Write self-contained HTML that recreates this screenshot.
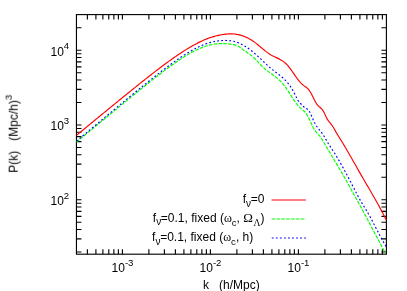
<!DOCTYPE html>
<html><head><meta charset="utf-8"><title>P(k)</title>
<style>html,body{margin:0;padding:0;background:#fff;}body{width:407px;height:291px;overflow:hidden;font-family:"Liberation Sans",sans-serif;}</style>
</head><body>
<svg width="407" height="291" viewBox="0 0 407 291" style="display:block">
<rect width="407" height="291" fill="#fff"/>
<g fill="none" stroke="#000" stroke-width="1.12">
<path d="M87.38 254.20V249.20M87.38 14.60V19.60M95.91 254.20V249.20M95.91 14.60V19.60M102.88 254.20V249.20M102.88 14.60V19.60M108.77 254.20V249.20M108.77 14.60V19.60M113.87 254.20V249.20M113.87 14.60V19.60M118.37 254.20V249.20M118.37 14.60V19.60M122.40 254.20V249.20M122.40 14.60V19.60M148.89 254.20V249.20M148.89 14.60V19.60M164.39 254.20V249.20M164.39 14.60V19.60M175.38 254.20V249.20M175.38 14.60V19.60M183.91 254.20V249.20M183.91 14.60V19.60M190.88 254.20V249.20M190.88 14.60V19.60M196.77 254.20V249.20M196.77 14.60V19.60M201.87 254.20V249.20M201.87 14.60V19.60M206.37 254.20V249.20M206.37 14.60V19.60M210.40 254.20V249.20M210.40 14.60V19.60M236.89 254.20V249.20M236.89 14.60V19.60M252.39 254.20V249.20M252.39 14.60V19.60M263.38 254.20V249.20M263.38 14.60V19.60M271.91 254.20V249.20M271.91 14.60V19.60M278.88 254.20V249.20M278.88 14.60V19.60M284.77 254.20V249.20M284.77 14.60V19.60M289.87 254.20V249.20M289.87 14.60V19.60M294.37 254.20V249.20M294.37 14.60V19.60M298.40 254.20V249.20M298.40 14.60V19.60M324.89 254.20V249.20M324.89 14.60V19.60M340.39 254.20V249.20M340.39 14.60V19.60M351.38 254.20V249.20M351.38 14.60V19.60M359.91 254.20V249.20M359.91 14.60V19.60M366.88 254.20V249.20M366.88 14.60V19.60M372.77 254.20V249.20M372.77 14.60V19.60M377.87 254.20V249.20M377.87 14.60V19.60M382.37 254.20V249.20M382.37 14.60V19.60M76.45 252.05H81.45M386.40 252.05H381.40M76.45 238.89H81.45M386.40 238.89H381.40M76.45 229.55H81.45M386.40 229.55H381.40M76.45 222.30H81.45M386.40 222.30H381.40M76.45 216.38H81.45M386.40 216.38H381.40M76.45 211.38H81.45M386.40 211.38H381.40M76.45 207.04H81.45M386.40 207.04H381.40M76.45 203.22H81.45M386.40 203.22H381.40M76.45 199.80H81.45M386.40 199.80H381.40M76.45 177.30H81.45M386.40 177.30H381.40M76.45 164.14H81.45M386.40 164.14H381.40M76.45 154.80H81.45M386.40 154.80H381.40M76.45 147.55H81.45M386.40 147.55H381.40M76.45 141.63H81.45M386.40 141.63H381.40M76.45 136.63H81.45M386.40 136.63H381.40M76.45 132.29H81.45M386.40 132.29H381.40M76.45 128.47H81.45M386.40 128.47H381.40M76.45 125.05H81.45M386.40 125.05H381.40M76.45 102.55H81.45M386.40 102.55H381.40M76.45 89.39H81.45M386.40 89.39H381.40M76.45 80.05H81.45M386.40 80.05H381.40M76.45 72.80H81.45M386.40 72.80H381.40M76.45 66.88H81.45M386.40 66.88H381.40M76.45 61.88H81.45M386.40 61.88H381.40M76.45 57.54H81.45M386.40 57.54H381.40M76.45 53.72H81.45M386.40 53.72H381.40M76.45 50.30H81.45M386.40 50.30H381.40M76.45 27.80H81.45M386.40 27.80H381.40"/>
<rect x="76.45" y="14.6" width="309.95" height="239.60"/>
</g>
<g fill="none" stroke-linecap="butt" stroke-linejoin="round">
<path d="M76.45 135.39 L77.45 134.56 L78.45 133.74 L79.45 132.91 L80.45 132.09 L81.45 131.26 L82.45 130.44 L83.45 129.61 L84.45 128.79 L85.45 127.96 L86.45 127.14 L87.45 126.31 L88.45 125.49 L89.45 124.67 L90.45 123.84 L91.45 123.02 L92.45 122.20 L93.45 121.37 L94.45 120.55 L95.45 119.73 L96.45 118.90 L97.45 118.08 L98.45 117.26 L99.45 116.44 L100.45 115.61 L101.45 114.79 L102.45 113.97 L103.45 113.15 L104.45 112.33 L105.45 111.51 L106.45 110.69 L107.45 109.87 L108.45 109.05 L109.45 108.23 L110.45 107.41 L111.45 106.59 L112.45 105.77 L113.45 104.96 L114.45 104.14 L115.45 103.32 L116.45 102.50 L117.45 101.69 L118.45 100.87 L119.45 100.06 L120.45 99.24 L121.45 98.43 L122.45 97.62 L123.45 96.80 L124.45 95.99 L125.45 95.18 L126.45 94.37 L127.45 93.56 L128.45 92.75 L129.45 91.94 L130.45 91.13 L131.45 90.33 L132.45 89.52 L133.45 88.71 L134.45 87.91 L135.45 87.11 L136.45 86.31 L137.45 85.50 L138.45 84.70 L139.45 83.91 L140.45 83.11 L141.45 82.31 L142.45 81.52 L143.45 80.73 L144.45 79.93 L145.45 79.14 L146.45 78.36 L147.45 77.57 L148.45 76.78 L149.45 76.00 L150.45 75.22 L151.45 74.44 L152.45 73.66 L153.45 72.89 L154.45 72.12 L155.45 71.35 L156.45 70.58 L157.45 69.81 L158.45 69.05 L159.45 68.29 L160.45 67.54 L161.45 66.78 L162.45 66.03 L163.45 65.28 L164.45 64.54 L165.45 63.80 L166.45 63.06 L167.45 62.33 L168.45 61.60 L169.45 60.88 L170.45 60.16 L171.45 59.44 L172.45 58.73 L173.45 58.03 L174.45 57.32 L175.45 56.63 L176.45 55.94 L177.45 55.25 L178.45 54.57 L179.45 53.90 L180.45 53.24 L181.45 52.58 L182.45 51.92 L183.45 51.28 L184.45 50.64 L185.45 50.01 L186.45 49.38 L187.45 48.77 L188.45 48.16 L189.45 47.56 L190.45 46.97 L191.45 46.39 L192.45 45.82 L193.45 45.26 L194.45 44.71 L195.45 44.17 L196.45 43.64 L197.45 43.12 L198.45 42.62 L199.45 42.12 L200.45 41.64 L201.45 41.17 L202.45 40.71 L203.45 40.26 L204.45 39.83 L205.45 39.42 L206.45 39.01 L207.45 38.62 L208.45 38.25 L209.45 37.89 L210.45 37.55 L211.45 37.22 L212.45 36.91 L213.45 36.61 L214.45 36.33 L215.45 36.06 L216.45 35.81 L217.45 35.57 L218.45 35.35 L219.45 35.14 L220.45 34.94 L221.45 34.76 L222.45 34.60 L223.45 34.45 L224.45 34.31 L225.45 34.19 L226.45 34.09 L227.45 34.00 L228.45 33.94 L229.45 33.89 L230.45 33.87 L231.45 33.87 L232.45 33.90 L233.45 33.96 L234.45 34.05 L235.45 34.16 L236.45 34.31 L237.45 34.48 L238.45 34.68 L239.45 34.91 L240.45 35.17 L241.45 35.46 L242.45 35.78 L243.45 36.13 L244.45 36.51 L245.45 36.92 L246.45 37.36 L247.45 37.84 L248.45 38.35 L249.45 38.89 L250.45 39.47 L251.45 40.08 L252.45 40.73 L253.45 41.41 L254.45 42.13 L255.45 42.88 L256.45 43.66 L257.45 44.46 L258.45 45.29 L259.45 46.12 L260.45 46.97 L261.45 47.81 L262.45 48.66 L263.45 49.49 L264.45 50.31 L265.45 51.10 L266.45 51.88 L267.45 52.62 L268.45 53.32 L269.45 53.98 L270.45 54.60 L271.45 55.17 L272.45 55.70 L273.45 56.20 L274.45 56.69 L275.45 57.17 L276.45 57.64 L277.45 58.12 L278.45 58.61 L279.45 59.13 L280.45 59.67 L281.45 60.26 L282.45 60.90 L283.45 61.60 L284.45 62.37 L285.45 63.22 L286.45 64.17 L287.45 65.23 L288.45 66.39 L289.45 67.64 L290.45 68.97 L291.45 70.34 L292.45 71.76 L293.45 73.20 L294.45 74.64 L295.45 76.07 L296.45 77.47 L297.45 78.83 L298.45 80.14 L299.45 81.38 L300.45 82.54 L301.45 83.60 L302.45 84.56 L303.45 85.39 L304.45 86.12 L305.45 86.82 L306.45 87.55 L307.45 88.40 L308.45 89.45 L309.45 90.75 L310.45 92.27 L311.45 94.00 L312.45 95.90 L313.45 97.92 L314.45 99.95 L315.45 101.88 L316.45 103.57 L317.45 104.94 L318.45 106.03 L319.45 106.94 L320.45 107.80 L321.45 108.74 L322.45 109.89 L323.45 111.41 L324.45 113.36 L325.45 115.53 L326.45 117.61 L327.45 119.39 L328.45 120.90 L329.45 122.23 L330.45 123.47 L331.45 124.71 L332.45 126.03 L333.45 127.54 L334.45 129.27 L335.45 131.11 L336.45 132.88 L337.45 134.55 L338.45 136.15 L339.45 137.73 L340.45 139.32 L341.45 140.93 L342.45 142.56 L343.45 144.21 L344.45 145.89 L345.45 147.57 L346.45 149.28 L347.45 151.00 L348.45 152.73 L349.45 154.47 L350.45 156.22 L351.45 157.98 L352.45 159.74 L353.45 161.51 L354.45 163.28 L355.45 165.05 L356.45 166.82 L357.45 168.59 L358.45 170.35 L359.45 172.10 L360.45 173.85 L361.45 175.59 L362.45 177.32 L363.45 179.04 L364.45 180.76 L365.45 182.47 L366.45 184.17 L367.45 185.88 L368.45 187.58 L369.45 189.29 L370.45 191.00 L371.45 192.72 L372.45 194.45 L373.45 196.18 L374.45 197.93 L375.45 199.69 L376.45 201.46 L377.45 203.25 L378.45 205.06 L379.45 206.89 L380.45 208.75 L381.45 210.62 L382.45 212.52 L383.45 214.45 L384.45 216.41 L385.45 218.40 L386.40 220.33" stroke="#ff0000" stroke-width="1.15"/>
<path d="M76.45 142.13 L77.45 141.30 L78.45 140.48 L79.45 139.65 L80.45 138.82 L81.45 137.99 L82.45 137.16 L83.45 136.33 L84.45 135.50 L85.45 134.67 L86.45 133.84 L87.45 133.01 L88.45 132.18 L89.45 131.35 L90.45 130.53 L91.45 129.70 L92.45 128.87 L93.45 128.04 L94.45 127.21 L95.45 126.38 L96.45 125.56 L97.45 124.73 L98.45 123.90 L99.45 123.07 L100.45 122.25 L101.45 121.42 L102.45 120.59 L103.45 119.76 L104.45 118.94 L105.45 118.11 L106.45 117.28 L107.45 116.46 L108.45 115.63 L109.45 114.81 L110.45 113.98 L111.45 113.16 L112.45 112.33 L113.45 111.51 L114.45 110.68 L115.45 109.86 L116.45 109.04 L117.45 108.21 L118.45 107.39 L119.45 106.57 L120.45 105.75 L121.45 104.92 L122.45 104.10 L123.45 103.28 L124.45 102.46 L125.45 101.64 L126.45 100.83 L127.45 100.01 L128.45 99.19 L129.45 98.37 L130.45 97.56 L131.45 96.74 L132.45 95.93 L133.45 95.11 L134.45 94.30 L135.45 93.49 L136.45 92.68 L137.45 91.87 L138.45 91.06 L139.45 90.25 L140.45 89.44 L141.45 88.64 L142.45 87.83 L143.45 87.03 L144.45 86.23 L145.45 85.43 L146.45 84.63 L147.45 83.84 L148.45 83.04 L149.45 82.25 L150.45 81.46 L151.45 80.67 L152.45 79.88 L153.45 79.09 L154.45 78.31 L155.45 77.53 L156.45 76.75 L157.45 75.98 L158.45 75.21 L159.45 74.44 L160.45 73.67 L161.45 72.91 L162.45 72.15 L163.45 71.39 L164.45 70.64 L165.45 69.89 L166.45 69.15 L167.45 68.41 L168.45 67.67 L169.45 66.94 L170.45 66.22 L171.45 65.49 L172.45 64.78 L173.45 64.07 L174.45 63.37 L175.45 62.67 L176.45 61.98 L177.45 61.29 L178.45 60.61 L179.45 59.94 L180.45 59.28 L181.45 58.63 L182.45 57.98 L183.45 57.34 L184.45 56.71 L185.45 56.09 L186.45 55.48 L187.45 54.88 L188.45 54.29 L189.45 53.71 L190.45 53.15 L191.45 52.59 L192.45 52.05 L193.45 51.52 L194.45 51.00 L195.45 50.50 L196.45 50.01 L197.45 49.54 L198.45 49.08 L199.45 48.63 L200.45 48.20 L201.45 47.79 L202.45 47.40 L203.45 47.02 L204.45 46.66 L205.45 46.32 L206.45 46.00 L207.45 45.70 L208.45 45.42 L209.45 45.15 L210.45 44.91 L211.45 44.69 L212.45 44.49 L213.45 44.31 L214.45 44.15 L215.45 44.01 L216.45 43.90 L217.45 43.80 L218.45 43.72 L219.45 43.66 L220.45 43.62 L221.45 43.60 L222.45 43.60 L223.45 43.62 L224.45 43.65 L225.45 43.70 L226.45 43.76 L227.45 43.84 L228.45 43.93 L229.45 44.04 L230.45 44.16 L231.45 44.29 L232.45 44.44 L233.45 44.62 L234.45 44.84 L235.45 45.11 L236.45 45.45 L237.45 45.85 L238.45 46.34 L239.45 46.93 L240.45 47.61 L241.45 48.35 L242.45 49.13 L243.45 49.92 L244.45 50.67 L245.45 51.40 L246.45 52.09 L247.45 52.78 L248.45 53.46 L249.45 54.15 L250.45 54.87 L251.45 55.62 L252.45 56.42 L253.45 57.28 L254.45 58.21 L255.45 59.22 L256.45 60.29 L257.45 61.39 L258.45 62.51 L259.45 63.62 L260.45 64.70 L261.45 65.73 L262.45 66.70 L263.45 67.62 L264.45 68.49 L265.45 69.32 L266.45 70.12 L267.45 70.89 L268.45 71.63 L269.45 72.37 L270.45 73.09 L271.45 73.81 L272.45 74.53 L273.45 75.26 L274.45 76.01 L275.45 76.78 L276.45 77.58 L277.45 78.42 L278.45 79.30 L279.45 80.23 L280.45 81.21 L281.45 82.26 L282.45 83.37 L283.45 84.56 L284.45 85.83 L285.45 87.18 L286.45 88.61 L287.45 90.09 L288.45 91.62 L289.45 93.17 L290.45 94.74 L291.45 96.30 L292.45 97.86 L293.45 99.38 L294.45 100.86 L295.45 102.29 L296.45 103.64 L297.45 104.91 L298.45 106.09 L299.45 107.15 L300.45 108.10 L301.45 108.98 L302.45 109.81 L303.45 110.62 L304.45 111.50 L305.45 112.55 L306.45 113.85 L307.45 115.48 L308.45 117.38 L309.45 119.46 L310.45 121.64 L311.45 123.82 L312.45 125.94 L313.45 127.92 L314.45 129.67 L315.45 131.15 L316.45 132.39 L317.45 133.49 L318.45 134.57 L319.45 135.72 L320.45 137.03 L321.45 138.53 L322.45 140.15 L323.45 141.83 L324.45 143.52 L325.45 145.20 L326.45 146.88 L327.45 148.56 L328.45 150.23 L329.45 151.90 L330.45 153.58 L331.45 155.25 L332.45 156.93 L333.45 158.61 L334.45 160.29 L335.45 161.97 L336.45 163.66 L337.45 165.35 L338.45 167.05 L339.45 168.75 L340.45 170.46 L341.45 172.18 L342.45 173.91 L343.45 175.65 L344.45 177.39 L345.45 179.15 L346.45 180.92 L347.45 182.70 L348.45 184.50 L349.45 186.30 L350.45 188.13 L351.45 189.96 L352.45 191.81 L353.45 193.64 L354.45 195.45 L355.45 197.23 L356.45 199.01 L357.45 200.79 L358.45 202.58 L359.45 204.40 L360.45 206.23 L361.45 208.07 L362.45 209.92 L363.45 211.79 L364.45 213.66 L365.45 215.55 L366.45 217.44 L367.45 219.33 L368.45 221.23 L369.45 223.14 L370.45 225.04 L371.45 226.95 L372.45 228.86 L373.45 230.76 L374.45 232.66 L375.45 234.56 L376.45 236.45 L377.45 238.34 L378.45 240.22 L379.45 242.08 L380.45 243.94 L381.45 245.79 L382.45 247.62 L383.45 249.44 L384.45 251.25 L385.45 253.04" stroke="#00ff00" stroke-width="1.15" stroke-dasharray="3.6 1.25"/>
<path d="M76.45 141.18 L77.45 140.34 L78.45 139.50 L79.45 138.67 L80.45 137.83 L81.45 136.99 L82.45 136.15 L83.45 135.31 L84.45 134.48 L85.45 133.64 L86.45 132.80 L87.45 131.96 L88.45 131.13 L89.45 130.29 L90.45 129.45 L91.45 128.61 L92.45 127.78 L93.45 126.94 L94.45 126.10 L95.45 125.27 L96.45 124.43 L97.45 123.59 L98.45 122.76 L99.45 121.92 L100.45 121.09 L101.45 120.25 L102.45 119.41 L103.45 118.58 L104.45 117.74 L105.45 116.91 L106.45 116.07 L107.45 115.24 L108.45 114.41 L109.45 113.57 L110.45 112.74 L111.45 111.91 L112.45 111.07 L113.45 110.24 L114.45 109.41 L115.45 108.58 L116.45 107.75 L117.45 106.91 L118.45 106.08 L119.45 105.25 L120.45 104.42 L121.45 103.60 L122.45 102.77 L123.45 101.94 L124.45 101.11 L125.45 100.28 L126.45 99.46 L127.45 98.63 L128.45 97.81 L129.45 96.98 L130.45 96.16 L131.45 95.34 L132.45 94.52 L133.45 93.69 L134.45 92.87 L135.45 92.06 L136.45 91.24 L137.45 90.42 L138.45 89.60 L139.45 88.79 L140.45 87.98 L141.45 87.16 L142.45 86.35 L143.45 85.54 L144.45 84.73 L145.45 83.93 L146.45 83.12 L147.45 82.32 L148.45 81.52 L149.45 80.72 L150.45 79.92 L151.45 79.12 L152.45 78.33 L153.45 77.54 L154.45 76.75 L155.45 75.96 L156.45 75.18 L157.45 74.40 L158.45 73.62 L159.45 72.84 L160.45 72.07 L161.45 71.30 L162.45 70.53 L163.45 69.77 L164.45 69.01 L165.45 68.25 L166.45 67.50 L167.45 66.75 L168.45 66.01 L169.45 65.27 L170.45 64.54 L171.45 63.81 L172.45 63.08 L173.45 62.37 L174.45 61.65 L175.45 60.95 L176.45 60.24 L177.45 59.55 L178.45 58.86 L179.45 58.18 L180.45 57.51 L181.45 56.84 L182.45 56.18 L183.45 55.53 L184.45 54.89 L185.45 54.25 L186.45 53.63 L187.45 53.01 L188.45 52.41 L189.45 51.81 L190.45 51.23 L191.45 50.65 L192.45 50.09 L193.45 49.54 L194.45 49.00 L195.45 48.48 L196.45 47.97 L197.45 47.47 L198.45 46.98 L199.45 46.51 L200.45 46.05 L201.45 45.61 L202.45 45.19 L203.45 44.78 L204.45 44.39 L205.45 44.01 L206.45 43.65 L207.45 43.31 L208.45 42.99 L209.45 42.69 L210.45 42.41 L211.45 42.15 L212.45 41.91 L213.45 41.69 L214.45 41.49 L215.45 41.30 L216.45 41.14 L217.45 40.99 L218.45 40.86 L219.45 40.75 L220.45 40.65 L221.45 40.57 L222.45 40.51 L223.45 40.46 L224.45 40.44 L225.45 40.43 L226.45 40.45 L227.45 40.48 L228.45 40.55 L229.45 40.63 L230.45 40.75 L231.45 40.90 L232.45 41.08 L233.45 41.29 L234.45 41.54 L235.45 41.83 L236.45 42.15 L237.45 42.50 L238.45 42.88 L239.45 43.29 L240.45 43.74 L241.45 44.22 L242.45 44.73 L243.45 45.27 L244.45 45.85 L245.45 46.46 L246.45 47.10 L247.45 47.78 L248.45 48.48 L249.45 49.22 L250.45 49.98 L251.45 50.76 L252.45 51.57 L253.45 52.40 L254.45 53.25 L255.45 54.12 L256.45 55.01 L257.45 55.91 L258.45 56.82 L259.45 57.75 L260.45 58.69 L261.45 59.63 L262.45 60.58 L263.45 61.54 L264.45 62.49 L265.45 63.44 L266.45 64.38 L267.45 65.30 L268.45 66.21 L269.45 67.11 L270.45 67.97 L271.45 68.82 L272.45 69.63 L273.45 70.42 L274.45 71.19 L275.45 71.95 L276.45 72.70 L277.45 73.46 L278.45 74.22 L279.45 75.00 L280.45 75.80 L281.45 76.62 L282.45 77.49 L283.45 78.39 L284.45 79.34 L285.45 80.34 L286.45 81.40 L287.45 82.53 L288.45 83.75 L289.45 85.05 L290.45 86.47 L291.45 87.99 L292.45 89.65 L293.45 91.45 L294.45 93.39 L295.45 95.46 L296.45 97.55 L297.45 99.54 L298.45 101.21 L299.45 102.49 L300.45 103.53 L301.45 104.51 L302.45 105.58 L303.45 106.57 L304.45 107.33 L305.45 107.93 L306.45 108.52 L307.45 109.22 L308.45 110.20 L309.45 111.56 L310.45 113.44 L311.45 115.68 L312.45 118.09 L313.45 120.45 L314.45 122.55 L315.45 124.38 L316.45 125.97 L317.45 127.39 L318.45 128.70 L319.45 129.93 L320.45 131.15 L321.45 132.40 L322.45 133.75 L323.45 135.24 L324.45 136.88 L325.45 138.61 L326.45 140.38 L327.45 142.14 L328.45 143.82 L329.45 145.40 L330.45 146.92 L331.45 148.41 L332.45 149.91 L333.45 151.44 L334.45 153.00 L335.45 154.60 L336.45 156.22 L337.45 157.88 L338.45 159.57 L339.45 161.28 L340.45 163.03 L341.45 164.79 L342.45 166.58 L343.45 168.39 L344.45 170.23 L345.45 172.08 L346.45 173.95 L347.45 175.83 L348.45 177.74 L349.45 179.65 L350.45 181.58 L351.45 183.52 L352.45 185.46 L353.45 187.41 L354.45 189.35 L355.45 191.28 L356.45 193.19 L357.45 195.08 L358.45 196.93 L359.45 198.75 L360.45 200.52 L361.45 202.25 L362.45 203.94 L363.45 205.61 L364.45 207.27 L365.45 208.93 L366.45 210.59 L367.45 212.28 L368.45 213.99 L369.45 215.75 L370.45 217.54 L371.45 219.38 L372.45 221.25 L373.45 223.14 L374.45 225.06 L375.45 226.98 L376.45 228.91 L377.45 230.84 L378.45 232.76 L379.45 234.66 L380.45 236.54 L381.45 238.39 L382.45 240.21 L383.45 241.99 L384.45 243.71 L385.45 245.38 L386.40 246.91" stroke="#0000ff" stroke-width="1.15" stroke-dasharray="1.8 2.25"/>
<path d="M271.5 199.95H305.9" stroke="#ff0000" stroke-width="1.15"/>
<path d="M271.6 218.95H305.9" stroke="#00ff00" stroke-width="1.15" stroke-dasharray="3.6 1.25"/>
<path d="M271.8 238.0H305.9" stroke="#0000ff" stroke-width="1.15" stroke-dasharray="1.8 2.25"/>
</g>
<g style="opacity:0.999" font-family="'Liberation Sans', sans-serif" font-size="12.0" fill="#000">
<text x="122.50" y="272.2" text-anchor="middle">10<tspan dy="-5.9" font-size="9.6">-3</tspan></text>
<text x="210.50" y="272.2" text-anchor="middle">10<tspan dy="-5.9" font-size="9.6">-2</tspan></text>
<text x="298.50" y="272.2" text-anchor="middle">10<tspan dy="-5.9" font-size="9.6">-1</tspan></text>
<text x="69.2" y="55.70" text-anchor="end">10<tspan dy="-6.4" font-size="9.6">4</tspan></text>
<text x="69.2" y="130.45" text-anchor="end">10<tspan dy="-6.4" font-size="9.6">3</tspan></text>
<text x="69.2" y="205.20" text-anchor="end">10<tspan dy="-6.4" font-size="9.6">2</tspan></text>
<text x="231.3" y="288.5" text-anchor="middle" xml:space="preserve" style="white-space:pre" id="xl">k   (h/Mpc)</text>
<text transform="translate(17.7 172.8) rotate(-90)" xml:space="preserve" style="white-space:pre" id="yl">P(k)   (Mpc/h)<tspan dy="-6" font-size="9.6">3</tspan></text>
<text x="264.4" y="202.9" text-anchor="end" id="l1">f<tspan dy="3.6" font-size="10">ν</tspan><tspan dy="-3.6" dx="-0.3">=0</tspan></text>
<text x="152.8" y="221.8" id="l2">f<tspan dy="3.6" font-size="10">ν</tspan><tspan dy="-3.6" dx="-0.3">=0.1, fixed (</tspan><tspan font-family="'Liberation Serif', serif">ω</tspan><tspan dy="4.3" font-size="9.6">c</tspan><tspan dy="-4.3">, </tspan><tspan font-family="'Liberation Serif', serif" font-size="13">Ω</tspan><tspan dy="4.5" dx="0.5" font-size="9.6" font-family="'Liberation Serif', serif">Λ</tspan><tspan dy="-4.5" dx="0.2">)</tspan></text>
<text x="152.1" y="241.0" id="l3">f<tspan dy="3.6" font-size="10">ν</tspan><tspan dy="-3.6" dx="-0.3">=0.1, fixed (</tspan><tspan font-family="'Liberation Serif', serif">ω</tspan><tspan dy="4.3" font-size="9.6">c</tspan><tspan dy="-4.3">, h)</tspan></text>
</g>
</svg>
</body></html>
